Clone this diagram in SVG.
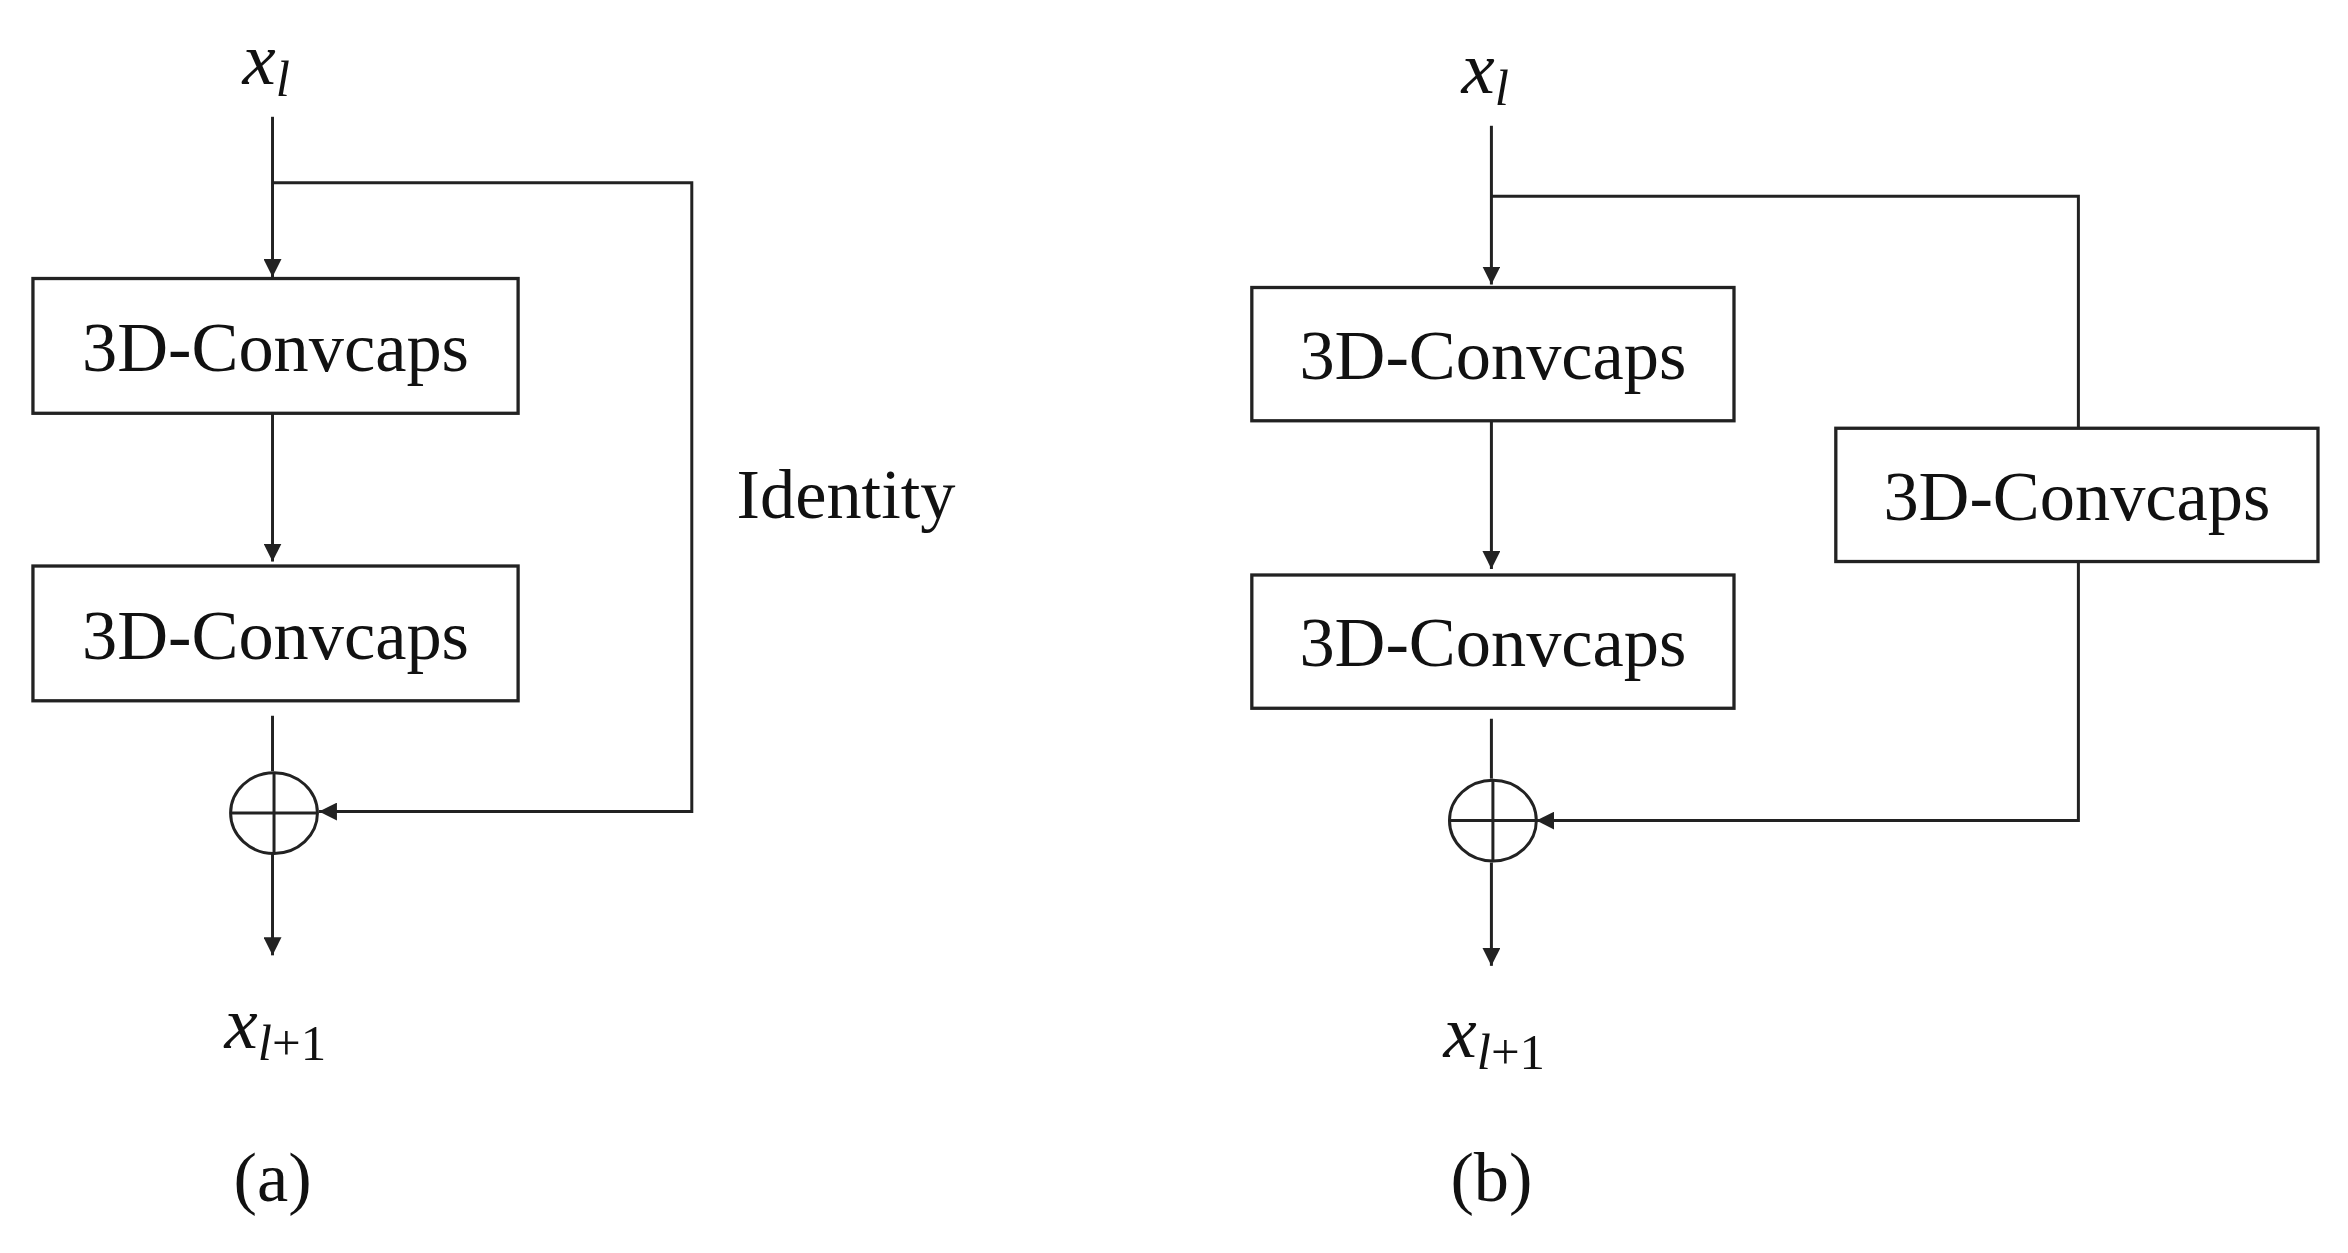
<svg xmlns="http://www.w3.org/2000/svg" width="2348" height="1253" viewBox="0 0 2348 1253">
<style>
.b{fill:#fff;stroke:#222;stroke-width:2.2}
.l{fill:none;stroke:#222;stroke-width:2}
.t{font-family:"Liberation Serif",serif;font-size:47px;fill:#111;text-anchor:middle}
.m{font-family:"Liberation Serif",serif;font-style:italic;font-size:50px;fill:#111}
.s{font-size:34px}
.u{font-style:normal}
</style>
<defs><marker id="a" viewBox="0 0 10 10" refX="10" refY="5" markerWidth="12" markerHeight="12" markerUnits="userSpaceOnUse" orient="auto"><path d="M0,0L10,5L0,10z" fill="#222"/></marker></defs>
<rect width="2348" height="1253" fill="#fff"/>
<g transform="scale(1.4974)">
<g id="connectors">
<path class="l" d="M182,78V185" marker-end="url(#a)"/>
<path class="l" d="M182,122H462V542H213" marker-end="url(#a)"/>
<path class="l" d="M182,276V375" marker-end="url(#a)"/>
<path class="l" d="M182,478V515"/>
<path class="l" d="M182,570V638" marker-end="url(#a)"/>
<path class="l" d="M996,84V190" marker-end="url(#a)"/>
<path class="l" d="M996,131H1388V286"/>
<path class="l" d="M1388,375V548H1026" marker-end="url(#a)"/>
<path class="l" d="M996,281V380" marker-end="url(#a)"/>
<path class="l" d="M996,480V520"/>
<path class="l" d="M996,576V645" marker-end="url(#a)"/>
</g>
<g id="a-in"><text class="m" x="162" y="56">x<tspan class="s" dy="8">l</tspan></text></g>
<g id="a-box1"><rect class="b" x="22" y="186" width="324" height="90"/><text class="t" x="184" y="248">3D-Convcaps</text></g>
<g id="a-box2"><rect class="b" x="22" y="378" width="324" height="90"/><text class="t" x="184" y="440">3D-Convcaps</text></g>
<g id="a-sum"><ellipse class="l" cx="183" cy="543" rx="29" ry="27"/><path class="l" d="M154,543H212M183,516V570"/></g>
<g id="a-out"><text class="m" x="150" y="700">x<tspan class="s" dy="8">l</tspan><tspan class="s u">+1</tspan></text></g>
<g id="a-identity"><text class="t" x="565" y="346">Identity</text></g>
<g id="a-label"><text class="t" x="182" y="802">(a)</text></g>
<g id="b-in"><text class="m" x="976" y="62">x<tspan class="s" dy="8">l</tspan></text></g>
<g id="b-box1"><rect class="b" x="836" y="192" width="322" height="89"/><text class="t" x="997" y="253">3D-Convcaps</text></g>
<g id="b-box2"><rect class="b" x="836" y="384" width="322" height="89"/><text class="t" x="997" y="445">3D-Convcaps</text></g>
<g id="b-box3"><rect class="b" x="1226" y="286" width="322" height="89"/><text class="t" x="1387" y="347">3D-Convcaps</text></g>
<g id="b-sum"><ellipse class="l" cx="997" cy="548" rx="29" ry="27"/><path class="l" d="M968,548H1026M997,521V575"/></g>
<g id="b-out"><text class="m" x="964" y="706">x<tspan class="s" dy="8">l</tspan><tspan class="s u">+1</tspan></text></g>
<g id="b-label"><text class="t" x="996" y="802">(b)</text></g>
</g>
</svg>
